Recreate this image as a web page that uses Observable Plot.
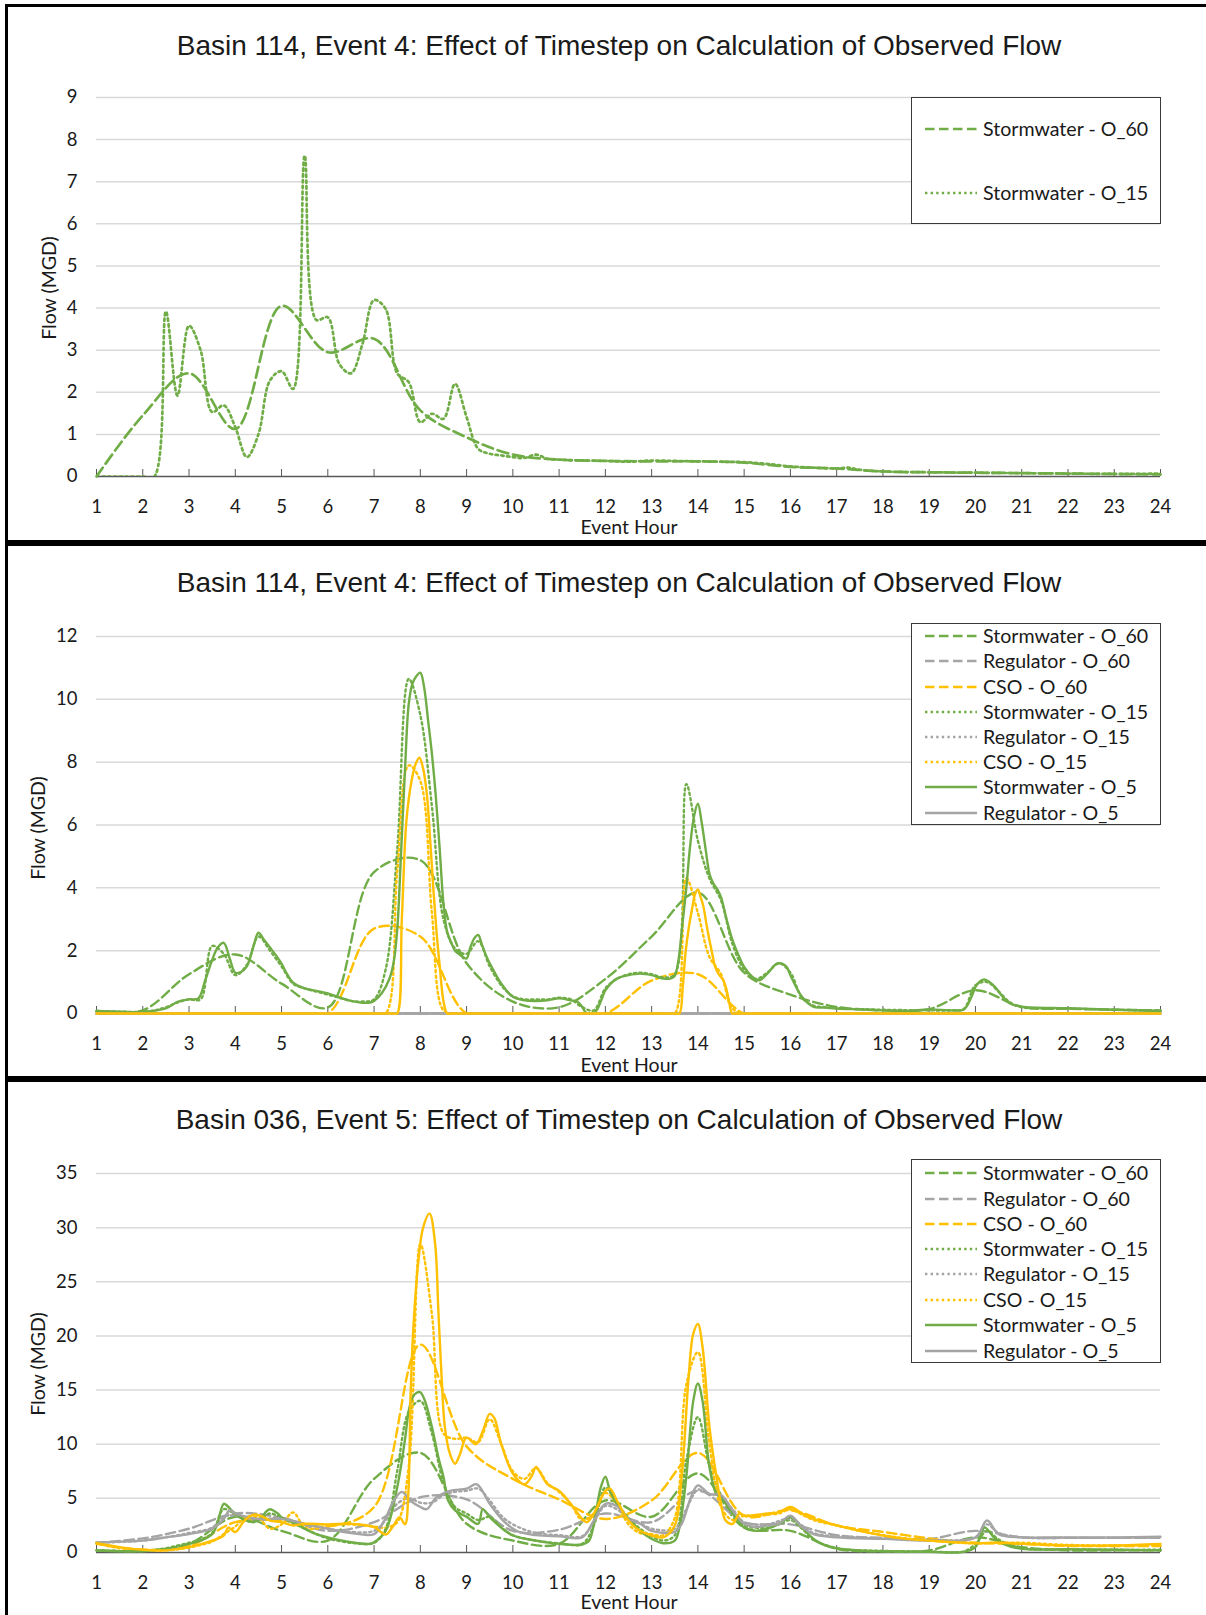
<!DOCTYPE html>
<html>
<head>
<meta charset="utf-8">
<script src="https://cdn.jsdelivr.net/npm/d3@7"></script>
<script src="https://cdn.jsdelivr.net/npm/@observablehq/plot@0.6"></script>
<style>
  html, body { margin: 0; padding: 0; background: #fff; }
  #page { position: relative; width: 1206px; height: 1615px; overflow: hidden; background: #fff; }
  .rule { position: absolute; background: #000; }
  .title { position: absolute; font-family: "Liberation Sans", Arial, sans-serif; font-size: 28px; color: #1a1a1a;
           white-space: nowrap; line-height: 1; transform: translate(-50%, -50%); }
  .xlabel, .ylabel { position: absolute; font-family: Lato, sans-serif; font-size: 19.5px; color: #1a1a1a;
           white-space: nowrap; line-height: 1; }
  .xlabel { transform: translate(-50%, -50%); }
  .ylabel { transform: translate(-50%, -50%) rotate(-90deg); }
  .legend { position: absolute; border: 1.5px solid #3a3a3a; background: #fff; box-sizing: border-box; }
  .lg-sample { position: absolute; }
  .lg-text { position: absolute; font-family: Lato, sans-serif; font-size: 19.6px; color: #1a1a1a;
             white-space: nowrap; line-height: 1; transform: translateY(-50%); }
  .plot { position: absolute; left: 0; }
</style>
</head>
<body>
<div id="page"></div>
<script>
// ---------- shared axis values ----------
const hourTicks = [1, 2, 3, 4, 5, 6, 7, 8, 9, 10, 11, 12, 13, 14, 15, 16, 17, 18, 19, 20, 21, 22, 23, 24];
const p1YTicks = [0, 1, 2, 3, 4, 5, 6, 7, 8, 9];
const p2YTicks = [0, 2, 4, 6, 8, 10, 12];
const p3YTicks = [0, 5, 10, 15, 20, 25, 30, 35];

// ---------- Basin 114, Event 4 (stormwater only) ----------
const p1StormO60 = [0, 1.45, 2.45, 1.13, 4.05, 2.95, 3.27, 1.57, 0.93, 0.52, 0.40, 0.37,
                    0.36, 0.36, 0.33, 0.23, 0.19, 0.12, 0.10, 0.09, 0.08, 0.07, 0.06, 0.05];
const p1StormO15 = [[1,0],[1.25,0],[1.5,0],[1.75,0],[2,0],[2.25,0],[2.5,3.92],[2.75,1.92],[3,3.58],[3.25,3.0],
  [3.5,1.53],[3.75,1.69],[4,1.17],[4.25,0.46],[4.5,1.0],[4.75,2.28],[5,2.5],[5.25,2.08],[5.5,7.62],[5.75,3.72],
  [6,3.78],[6.25,2.67],[6.5,2.45],[6.75,3.15],[7,4.19],[7.25,3.98],[7.5,2.45],[7.75,2.24],[8,1.29],[8.25,1.49],
  [8.5,1.37],[8.75,2.2],[9,1.41],[9.25,0.66],[9.5,0.54],[9.75,0.5],[10,0.46],[10.25,0.44],[10.5,0.52],[10.75,0.42],
  [11,0.40],[11.5,0.38],[12,0.37],[12.5,0.35],[13,0.38],[13.5,0.37],[14,0.36],[14.5,0.35],[15,0.34],[15.5,0.3],
  [16,0.24],[16.5,0.21],[17,0.19],[17.25,0.21],[17.5,0.16],[18,0.12],[19,0.1],[20,0.09],[21,0.08],[22,0.07],
  [23,0.06],[24,0.07]];

// ---------- Basin 114, Event 4 (all flow types) ----------
const p2StormO60 = [0.08, 0.10, 1.25, 1.88, 0.95, 0.19, 4.5, 4.88, 1.6, 0.38, 0.2, 1.1,
                    2.45, 3.85, 1.3, 0.6, 0.21, 0.1, 0.14, 0.74, 0.21, 0.15, 0.12, 0.1];
const p2RegO60 = [0, 0, 0, 0, 0, 0, 0, 0, 0, 0, 0, 0, 0, 0, 0, 0, 0, 0, 0, 0, 0, 0, 0, 0];
const p2CsoO60 = [0, 0, 0, 0, 0, 0, 2.7, 2.45, 0, 0, 0, 0, 1.05, 1.25, 0, 0, 0, 0, 0, 0, 0, 0, 0, 0];
const p2StormO15 = [[1,0.08],[1.5,0.06],[2,0.05],[2.25,0.1],[2.5,0.2],[2.75,0.35],[3,0.45],[3.25,0.45],[3.5,2.15],
  [3.75,1.9],[4,1.22],[4.25,1.55],[4.5,2.45],[4.75,2.0],[5,1.5],[5.25,0.95],[5.5,0.8],[5.75,0.7],[6,0.6],[6.25,0.5],
  [6.5,0.4],[6.75,0.38],[7,0.45],[7.25,1.4],[7.5,5.2],[7.75,10.65],[8,9.5],[8.25,6.6],[8.5,3.0],[8.75,2.07],
  [9,1.9],[9.25,2.3],[9.5,1.5],[9.75,0.9],[10,0.55],[10.25,0.45],[10.5,0.45],[10.75,0.45],[11,0.5],[11.25,0.45],
  [11.5,0.2],[11.75,0.1],[12,0.8],[12.25,1.1],[12.5,1.25],[12.75,1.3],[13,1.25],[13.25,1.15],[13.5,1.25],
  [13.75,7.3],[14,5.5],[14.25,4.3],[14.5,3.6],[14.75,2.2],[15,1.4],[15.25,1.1],[15.5,1.3],[15.75,1.6],[16,1.3],
  [16.25,0.5],[16.5,0.25],[16.75,0.2],[17,0.17],[18,0.12],[19,0.1],[19.5,0.1],[19.75,0.15],[20,0.9],[20.25,1.0],
  [20.5,0.7],[20.75,0.35],[21,0.2],[22,0.16],[23,0.12],[24,0.09]];
const p2RegO15 = [[1,0],[6,0],[12,0],[18,0],[24,0]];
const p2CsoO15 = [[1,0],[6.75,0],[7,0],[7.25,0],[7.5,4.5],[7.75,7.9],[8,7.4],[8.25,3.2],[8.5,0.1],[8.75,0],[9,0],
  [13.25,0],[13.5,0],[13.75,4.3],[14,3.2],[14.25,1.8],[14.5,1.25],[14.75,0.15],[15,0],[15.25,0],[24,0]];
const p2StormO5 = [[1,0.08],[1.5,0.06],[2,0.05],[2.5,0.16],[2.75,0.37],[3,0.45],[3.2,0.48],[3.35,1.06],[3.5,1.7],
  [3.62,2.1],[3.75,2.25],[3.88,1.75],[4,1.3],[4.12,1.32],[4.25,1.5],[4.4,2.17],[4.5,2.57],[4.62,2.35],[4.75,2.1],
  [4.88,1.85],[5,1.59],[5.12,1.25],[5.25,0.98],[5.5,0.8],[5.75,0.72],[6,0.64],[6.25,0.51],[6.5,0.4],[6.75,0.34],
  [6.92,0.35],[7,0.4],[7.17,0.65],[7.33,1.1],[7.42,1.6],[7.5,2.65],[7.58,5.0],[7.67,7.8],[7.75,9.86],[7.83,10.5],
  [7.92,10.75],[8,10.85],[8.08,10.4],[8.17,9.3],[8.25,8.27],[8.33,7.0],[8.42,5.2],[8.5,3.5],[8.58,2.6],[8.67,2.25],
  [8.75,2.0],[8.83,1.9],[8.92,1.8],[9,1.75],[9.08,2.1],[9.17,2.4],[9.25,2.5],[9.33,2.2],[9.42,1.85],[9.5,1.6],
  [9.75,0.95],[10,0.53],[10.25,0.42],[10.5,0.4],[10.75,0.42],[11,0.48],[11.25,0.42],[11.4,0.37],[11.5,0.21],
  [11.58,0.02],[11.67,0],[11.75,0],[11.83,0.15],[11.92,0.45],[12,0.74],[12.25,1.11],[12.5,1.22],[12.75,1.27],
  [13,1.22],[13.25,1.11],[13.42,1.12],[13.5,1.2],[13.58,1.7],[13.67,2.9],[13.75,4.0],[13.83,5.3],[13.92,6.3],
  [14,6.68],[14.08,6.1],[14.17,5.2],[14.25,4.45],[14.33,4.15],[14.42,3.95],[14.5,3.7],[14.62,3.0],[14.75,2.33],
  [14.88,1.85],[15,1.48],[15.17,1.18],[15.33,1.06],[15.5,1.27],[15.67,1.55],[15.75,1.6],[15.83,1.58],[15.92,1.48],
  [16,1.22],[16.25,0.53],[16.5,0.21],[16.75,0.19],[17,0.16],[17.5,0.13],[18,0.1],[18.5,0.08],[19,0.13],[19.5,0.1],
  [19.75,0.13],[19.92,0.55],[20,0.85],[20.08,1.0],[20.17,1.08],[20.25,1.05],[20.42,0.85],[20.58,0.55],[20.75,0.32],
  [21,0.22],[22,0.17],[23,0.12],[24,0.08]];
const p2RegO5 = [[1,0],[6,0],[12,0],[18,0],[24,0]];
const p2CsoO5 = [[1,0],[7.42,0],[7.5,0],[7.6,3.0],[7.7,6.15],[7.81,7.4],[7.9,7.95],[7.98,8.14],[8.06,7.8],[8.14,7.0],
  [8.21,5.6],[8.28,4.0],[8.35,2.6],[8.42,1.5],[8.5,0.4],[8.58,0],[8.67,0],[13.5,0],[13.6,0],[13.67,0.8],[13.73,1.9],
  [13.8,2.7],[13.87,3.3],[13.94,3.8],[14,3.95],[14.06,3.7],[14.12,3.4],[14.19,2.8],[14.25,2.33],[14.31,1.9],
  [14.37,1.5],[14.45,1.25],[14.55,1.06],[14.62,0.75],[14.67,0.4],[14.74,0],[14.8,0],[24,0]];

// ---------- Basin 036, Event 5 ----------
const p3StormO60 = [0.2, 0.15, 0.8, 3.3, 2.0, 1.1, 6.8, 9.2, 2.65, 1.1, 0.8, 4.8,
                    3.3, 7.3, 2.3, 2.0, 0.34, 0.1, 0.2, 1.4, 0.5, 0.2, 0.2, 0.2];
const p3RegO60 = [0.9, 1.3, 2.2, 3.6, 3.2, 2.0, 2.8, 5.1, 4.9, 2.0, 2.1, 3.6,
                  2.8, 5.7, 2.8, 2.6, 1.6, 1.35, 1.25, 2.0, 1.4, 1.35, 1.35, 1.35];
const p3CsoO60 = [0.8, 0.25, 0.6, 2.8, 2.95, 2.4, 4.2, 19.2, 9.8, 6.8, 4.9, 3.1,
                  4.8, 9.2, 3.4, 3.9, 2.5, 1.9, 1.3, 0.9, 0.8, 0.6, 0.6, 0.6];
const p3StormO15 = [[1,0.2],[1.5,0.15],[2,0.15],[2.5,0.4],[3,0.9],[3.25,1.2],[3.5,1.8],[3.75,4.0],[4,3.5],
  [4.25,2.9],[4.5,3.0],[4.75,3.6],[5,3.2],[5.25,2.7],[5.5,2.2],[5.75,1.7],[6,1.3],[6.5,0.9],[7,0.9],[7.25,2.2],
  [7.5,7.5],[7.75,13.0],[8,14.0],[8.25,11.0],[8.5,6.5],[8.75,4.2],[9,3.6],[9.25,3.0],[9.5,3.3],[9.75,2.3],[10,1.6],
  [10.5,1.1],[11,0.85],[11.5,0.8],[11.75,2.5],[12,6.0],[12.25,4.5],[12.5,3.2],[12.75,2.2],[13,1.5],[13.25,1.1],
  [13.5,1.6],[13.75,8.5],[14,12.5],[14.25,8.0],[14.5,5.3],[14.75,3.8],[15,2.5],[15.5,2.3],[15.75,2.6],[16,3.0],
  [16.25,2.2],[16.5,1.2],[17,0.4],[18,0.15],[19,0.1],[19.75,0.1],[20,0.8],[20.25,2.0],[20.5,1.2],[21,0.4],[22,0.3],
  [23,0.25],[24,0.25]];
const p3RegO15 = [[1,0.9],[2,1.1],[2.5,1.4],[3,1.8],[3.5,2.3],[3.75,3.3],[4,3.4],[4.5,3.0],[5,3.2],[5.5,2.6],
  [6,2.2],[6.5,1.9],[7,2.0],[7.25,3.0],[7.5,4.5],[7.75,5.0],[8,4.6],[8.25,4.6],[8.5,5.3],[8.75,5.6],[9,5.7],
  [9.25,5.9],[9.5,4.8],[9.75,3.4],[10,2.6],[10.5,1.8],[11,1.6],[11.5,1.5],[11.75,2.8],[12,4.3],[12.25,4.0],
  [12.5,3.1],[12.75,2.7],[13,2.2],[13.5,2.2],[13.75,4.0],[14,5.8],[14.25,5.4],[14.5,5.2],[14.75,4.0],[15,2.8],
  [15.5,2.6],[16,3.1],[16.5,1.8],[17,1.5],[18,1.3],[19,1.15],[20,1.4],[20.25,2.6],[20.5,1.8],[21,1.4],[22,1.35],
  [23,1.35],[24,1.35]];
const p3CsoO15 = [[1,0.9],[1.25,0.6],[1.5,0.4],[1.75,0.3],[2,0.25],[2.5,0.2],[3,0.45],[3.25,0.7],[3.5,1.0],
  [3.75,1.7],[4,2.4],[4.25,3.3],[4.5,3.2],[4.75,2.2],[5,2.6],[5.25,3.7],[5.5,2.3],[5.75,2.2],[6,2.5],[6.5,2.6],
  [7,2.4],[7.25,2.3],[7.5,2.8],[7.75,8.0],[8,28.5],[8.25,22],[8.5,11],[8.75,10.5],[9,10.6],[9.25,10.2],[9.5,12.3],
  [9.75,10],[10,7.5],[10.25,6.8],[10.5,7.8],[10.75,6.4],[11,5.6],[11.25,4.5],[11.5,3.0],[11.75,3.6],[12,5.5],
  [12.25,4.5],[12.5,2.6],[12.75,1.8],[13,1.7],[13.25,1.6],[13.5,3.2],[13.75,15.5],[14,18.5],[14.25,10],[14.5,4.2],
  [14.75,3.0],[15,3.4],[15.25,3.3],[15.5,3.5],[15.75,3.6],[16,4.0],[16.25,3.5],[16.5,3.0],[17,2.5],[17.5,2.0],
  [18,1.6],[18.5,1.3],[19,1.1],[19.5,0.95],[20,0.85],[20.5,0.9],[21,0.9],[22,0.7],[23,0.65],[24,0.7]];
const p3StormO5 = [[1,0.18],[1.5,0.12],[2,0.12],[2.5,0.34],[3,0.8],[3.25,1.1],[3.5,1.7],[3.6,2.5],[3.67,3.6],
  [3.75,4.5],[3.83,4.3],[3.92,3.9],[4,3.6],[4.12,3.2],[4.25,2.95],[4.4,2.8],[4.5,3.0],[4.6,3.4],[4.67,3.8],[4.75,4.0],
  [4.83,3.85],[4.92,3.6],[5,3.26],[5.25,2.8],[5.5,2.2],[5.75,1.7],[6,1.4],[6.5,0.95],[6.9,0.8],[7,0.95],[7.25,2.0],
  [7.5,6.0],[7.67,10.5],[7.75,13.1],[7.83,14.3],[7.92,14.75],[8,14.8],[8.1,14.0],[8.25,11.6],[8.4,8.6],[8.5,7.0],
  [8.6,4.8],[8.75,3.9],[9,3.3],[9.25,2.65],[9.35,4.0],[9.5,3.26],[9.75,2.3],[10,1.57],[10.5,1.1],[11,0.8],[11.5,0.74],
  [11.65,1.1],[11.8,3.9],[11.9,6.0],[12,7.0],[12.1,5.7],[12.25,4.5],[12.5,3.1],[12.75,2.0],[13,1.26],[13.25,0.86],
  [13.5,1.1],[13.6,2.3],[13.75,7.0],[13.9,14.0],[14,15.6],[14.1,14.0],[14.25,7.9],[14.4,5.4],[14.5,5.1],[14.75,3.6],
  [15,2.3],[15.25,2.0],[15.5,2.2],[15.75,2.65],[16,3.26],[16.25,2.3],[16.5,1.26],[16.75,0.65],[17,0.4],[17.5,0.18],
  [18,0.12],[19,0.06],[19.75,0.06],[20,0.5],[20.2,2.3],[20.4,1.4],[20.6,0.8],[21,0.34],[22,0.3],[23,0.25],[24,0.2]];
const p3RegO5 = [[1,0.9],[1.5,1.0],[2,1.1],[2.5,1.4],[3,1.7],[3.5,2.2],[3.75,3.1],[3.88,3.9],[4,3.6],[4.25,3.3],
  [4.5,3.1],[5,3.1],[5.5,2.65],[6,2.2],[6.5,1.8],[7,1.7],[7.22,2.95],[7.43,4.8],[7.6,5.6],[7.78,4.8],[8,4.2],
  [8.14,4.0],[8.35,5.1],[8.64,5.7],[9,5.9],[9.22,6.3],[9.5,4.5],[9.79,2.95],[10.08,2.0],[10.5,1.6],[11,1.5],
  [11.5,1.4],[11.75,2.95],[12,4.5],[12.25,4.3],[12.5,3.1],[12.75,2.65],[13,2.0],[13.5,1.9],[13.65,2.65],[13.85,5.1],
  [14,6.2],[14.25,5.4],[14.5,5.3],[14.75,3.9],[15,2.65],[15.25,2.35],[15.5,2.5],[15.75,2.65],[16,3.4],[16.25,2.35],
  [16.5,1.7],[17,1.4],[18,1.26],[19,1.1],[20,1.4],[20.25,2.95],[20.5,1.7],[21,1.4],[22,1.4],[23,1.4],[24,1.45]];
const p3CsoO5 = [[1,0.86],[1.5,0.5],[2,0.25],[2.5,0.2],[3,0.5],[3.5,1.1],[3.75,1.57],[3.85,2.3],[4,1.9],[4.2,2.95],
  [4.4,3.5],[4.6,3.3],[4.75,2.95],[5,2.8],[5.25,2.5],[5.5,2.65],[6,2.6],[6.5,2.65],[7,2.35],[7.25,1.66],[7.4,2.35],
  [7.55,3.26],[7.67,2.6],[7.74,5.4],[7.79,14.6],[7.85,20.8],[7.96,27],[8.06,30],[8.2,31.3],[8.32,28.5],[8.39,22.3],
  [8.46,16.2],[8.53,11.6],[8.64,9.1],[8.75,8.2],[8.85,9.0],[9,10.6],[9.2,10.0],[9.35,11.2],[9.5,12.8],[9.6,12.4],
  [9.75,10.0],[10,7.3],[10.25,6.3],[10.4,7.0],[10.5,7.9],[10.6,7.3],[10.75,6.3],[11,5.7],[11.25,4.5],[11.5,3.1],
  [11.6,2.8],[11.75,3.6],[12,5.7],[12.1,5.9],[12.25,4.8],[12.5,2.95],[12.75,2.0],[13,1.57],[13.25,1.4],[13.5,2.5],
  [13.65,7.0],[13.8,16.2],[13.9,20.2],[14,21.1],[14.1,19],[14.25,11.6],[14.4,7.0],[14.5,4.5],[14.6,2.95],
  [14.75,2.65],[14.9,3.6],[15,3.4],[15.5,3.6],[15.75,3.7],[16,4.2],[16.25,3.6],[16.5,3.1],[17,2.5],[17.5,2.0],
  [18,1.57],[18.5,1.26],[19,1.1],[19.5,0.95],[20,0.86],[20.5,0.9],[21,0.8],[22,0.65],[23,0.65],[24,0.8]];

// ---------- styling ----------
const GREEN = "#70ad47", GREY = "#a5a5a5", GOLD = "#ffc000";
const hourly = (values) => hourTicks.map((h, i) => [h, values[i]]);

const page = document.getElementById("page");
function el(cls, style, text) {
  const d = document.createElement("div");
  d.className = cls;
  Object.assign(d.style, style);
  if (text != null) d.textContent = text;
  page.appendChild(d);
  return d;
}

function drawPanel({top, height, marginTop, marginBottom, yMax, yTicks, series, lineWidth, dash, dot}) {
  const svg = Plot.plot({
    width: 1206,
    height,
    marginLeft: 96,
    marginRight: 46,
    marginTop,
    marginBottom,
    style: {fontFamily: "Lato, sans-serif", fontSize: "18.5px", color: "#1a1a1a", background: "transparent", overflow: "visible"},
    x: {domain: [1, 24]},
    y: {domain: [0, yMax]},
    marks: [
      Plot.gridY(yTicks.filter((d) => d > 0), {stroke: "#d9d9d9", strokeOpacity: 1, strokeWidth: 1.5}),
      Plot.axisY(yTicks, {tickSize: 0, tickPadding: 19, label: null, tickFormat: (d) => String(d)}),
      Plot.ruleY([0], {stroke: "#595959", strokeWidth: 1.6}),
      Plot.axisX(hourTicks, {tickSize: -7, tickPadding: 30, label: null, stroke: "#595959", tickFormat: (d) => String(d)}),
      ...series.map((s) =>
        Plot.line(s.data, {
          x: (d) => d[0],
          y: (d) => d[1],
          stroke: s.color,
          strokeWidth: lineWidth,
          strokeDasharray: s.kind === "dash" ? dash : s.kind === "dot" ? dot : null,
          curve: "catmull-rom",
          clip: s.clip === true
        })
      )
    ]
  });
  svg.classList.add("plot");
  svg.style.top = top + "px";
  page.appendChild(svg);
}

function legendSample(kind, color, left, cy) {
  const ns = "http://www.w3.org/2000/svg";
  const s = document.createElementNS(ns, "svg");
  s.setAttribute("width", 54);
  s.setAttribute("height", 8);
  s.setAttribute("class", "lg-sample");
  s.style.left = left + "px";
  s.style.top = (cy - 4) + "px";
  const l = document.createElementNS(ns, "line");
  l.setAttribute("x1", 0); l.setAttribute("x2", 52);
  l.setAttribute("y1", 4); l.setAttribute("y2", 4);
  l.setAttribute("stroke", color);
  l.setAttribute("stroke-width", 2.6);
  if (kind === "dash") l.setAttribute("stroke-dasharray", "9.5,4.5");
  if (kind === "dot") l.setAttribute("stroke-dasharray", "2.4,3.2");
  s.appendChild(l);
  page.appendChild(s);
}

function drawLegend({left, top, width, height, items, rows}) {
  el("legend", {left: left + "px", top: top + "px", width: width + "px", height: height + "px"});
  items.forEach((it, i) => {
    legendSample(it.kind, it.color, 925, rows[i]);
    el("lg-text", {left: "983px", top: rows[i] + "px"}, it.label);
  });
}

// ---------- frame lines ----------
el("rule", {left: "5px", top: "4px", width: "1201px", height: "3px"});
el("rule", {left: "5px", top: "540px", width: "1201px", height: "6px"});
el("rule", {left: "5px", top: "1076px", width: "1201px", height: "6px"});
el("rule", {left: "5px", top: "4px", width: "3px", height: "1611px"});

const titleA = "Basin 114, Event 4: Effect of Timestep on Calculation of Observed Flow";
const titleB = "Basin 036, Event 5: Effect of Timestep on Calculation of Observed Flow";

// ---------- panel 1 ----------
drawPanel({
  top: 60, height: 480, marginTop: 37, marginBottom: 64, yMax: 9, yTicks: p1YTicks,
  lineWidth: 2.7, dash: "11,5", dot: "2.4,3.4",
  series: [
    {data: hourly(p1StormO60), color: GREEN, kind: "dash"},
    {data: p1StormO15, color: GREEN, kind: "dot", clip: true}
  ]
});
el("title", {left: "619px", top: "46px"}, titleA);
el("ylabel", {left: "49px", top: "288px"}, "Flow (MGD)");
el("xlabel", {left: "629px", top: "527px"}, "Event Hour");
drawLegend({
  left: 911, top: 97, width: 250, height: 127,
  rows: [129, 193],
  items: [
    {kind: "dash", color: GREEN, label: "Stormwater - O_60"},
    {kind: "dot", color: GREEN, label: "Stormwater - O_15"}
  ]
});

// ---------- legend entries shared by panels 2 and 3 ----------
const fullLegend = [
  {kind: "dash", color: GREEN, label: "Stormwater - O_60"},
  {kind: "dash", color: GREY, label: "Regulator - O_60"},
  {kind: "dash", color: GOLD, label: "CSO - O_60"},
  {kind: "dot", color: GREEN, label: "Stormwater - O_15"},
  {kind: "dot", color: GREY, label: "Regulator - O_15"},
  {kind: "dot", color: GOLD, label: "CSO - O_15"},
  {kind: "solid", color: GREEN, label: "Stormwater - O_5"},
  {kind: "solid", color: GREY, label: "Regulator - O_5"}
];

// ---------- panel 2 ----------
drawPanel({
  top: 600, height: 473, marginTop: 36, marginBottom: 60, yMax: 12, yTicks: p2YTicks,
  lineWidth: 2.4, dash: "9.5,4.5", dot: "2.2,3.2",
  series: [
    {data: hourly(p2StormO60), color: GREEN, kind: "dash"},
    {data: hourly(p2RegO60), color: GREY, kind: "dash"},
    {data: hourly(p2CsoO60), color: GOLD, kind: "dash", clip: true},
    {data: p2StormO15, color: GREEN, kind: "dot"},
    {data: p2RegO15, color: GREY, kind: "dot"},
    {data: p2CsoO15, color: GOLD, kind: "dot", clip: true},
    {data: p2StormO5, color: GREEN, kind: "solid"},
    {data: p2RegO5, color: GREY, kind: "solid"},
    {data: p2CsoO5, color: GOLD, kind: "solid"}
  ]
});
el("title", {left: "619px", top: "583px"}, titleA);
el("ylabel", {left: "38px", top: "828px"}, "Flow (MGD)");
el("xlabel", {left: "629px", top: "1065px"}, "Event Hour");
drawLegend({
  left: 911, top: 623, width: 250, height: 202,
  rows: [636, 661, 686.5, 711.5, 737, 762, 787, 812.5],
  items: fullLegend
});

// ---------- panel 3 ----------
drawPanel({
  top: 1140, height: 472, marginTop: 33, marginBottom: 60, yMax: 35, yTicks: p3YTicks,
  lineWidth: 2.4, dash: "9.5,4.5", dot: "2.2,3.2",
  series: [
    {data: hourly(p3StormO60), color: GREEN, kind: "dash"},
    {data: hourly(p3RegO60), color: GREY, kind: "dash"},
    {data: hourly(p3CsoO60), color: GOLD, kind: "dash"},
    {data: p3StormO15, color: GREEN, kind: "dot"},
    {data: p3RegO15, color: GREY, kind: "dot"},
    {data: p3CsoO15, color: GOLD, kind: "dot"},
    {data: p3StormO5, color: GREEN, kind: "solid"},
    {data: p3RegO5, color: GREY, kind: "solid"},
    {data: p3CsoO5, color: GOLD, kind: "solid"}
  ]
});
el("title", {left: "619px", top: "1120px"}, titleB);
el("ylabel", {left: "38px", top: "1364px"}, "Flow (MGD)");
el("xlabel", {left: "629px", top: "1602px"}, "Event Hour");
drawLegend({
  left: 911, top: 1159, width: 250, height: 204,
  rows: [1173, 1198.5, 1224, 1249, 1274, 1299.5, 1325, 1350.5],
  items: fullLegend
});
</script>
</body>
</html>
